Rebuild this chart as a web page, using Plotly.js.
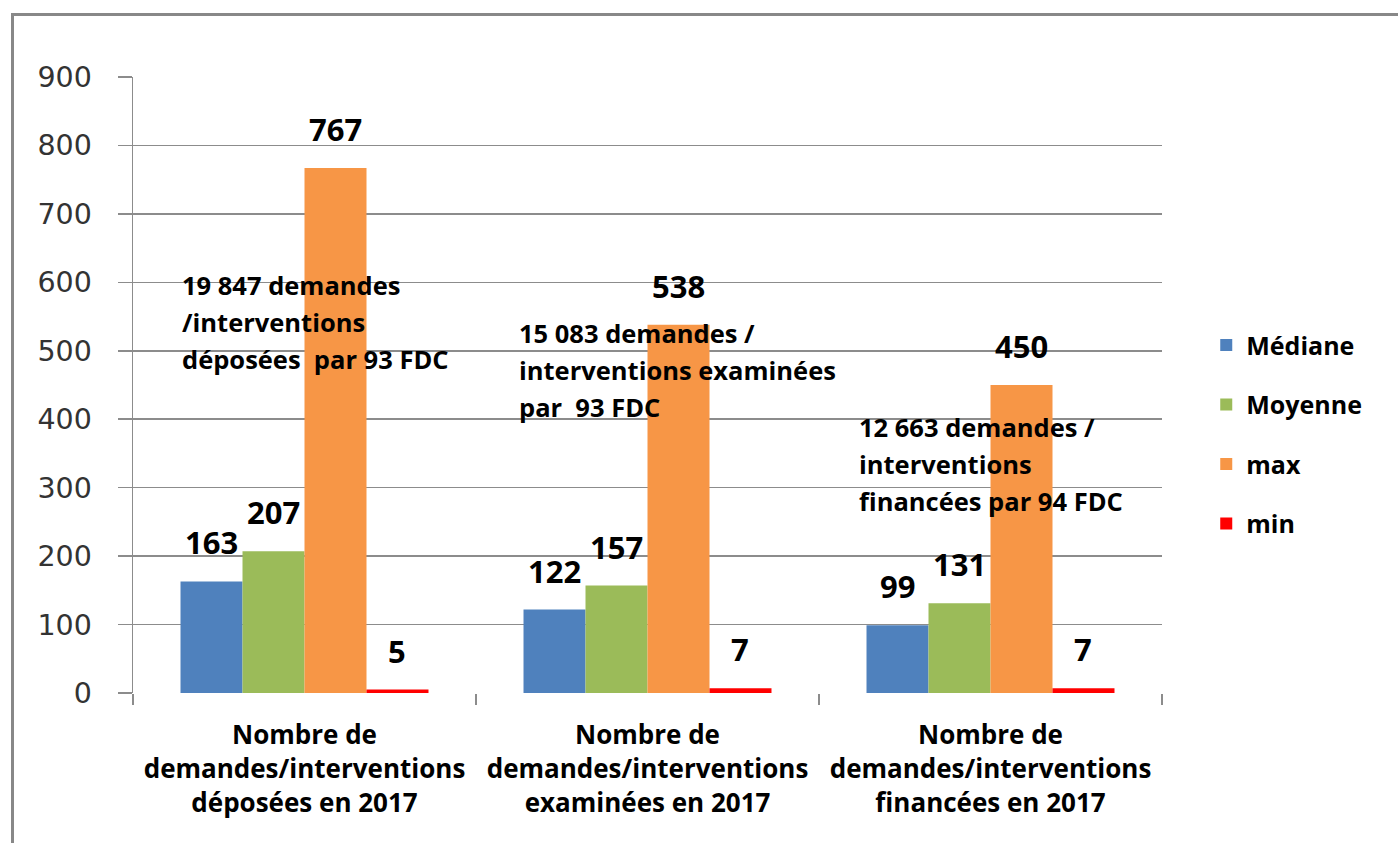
<!DOCTYPE html>
<html><head><meta charset="utf-8">
<script src="https://cdn.plot.ly/plotly-3.0.1.min.js"></script>
<style>
html,body{margin:0;padding:0;background:#fff;}
#frame{position:absolute;left:11px;top:13px;width:1500px;height:1000px;border-left:3px solid #888;border-top:3px solid #888;pointer-events:none;z-index:5;}
#chart{position:absolute;left:0;top:0;width:1398px;height:843px;}
</style></head>
<body>
<div id="chart"></div>
<div id="frame"></div>
<script>
const categories = [
  "Nombre de<br>demandes/interventions<br>déposées en 2017",
  "Nombre de<br>demandes/interventions<br>examinées en 2017",
  "Nombre de<br>demandes/interventions<br>financées en 2017"
];
const seriesNames = ["Médiane", "Moyenne", "max", "min"];
const mediane = [163, 122, 99];
const moyenne = [207, 157, 131];
const maxVals = [767, 538, 450];
const minVals = [5, 7, 7];
const colors = ["#4f81bd", "#9bbb59", "#f79646", "#ff0000"];
const noteLines = [
  ["19 847 demandes", "/interventions", "déposées  par 93 FDC"],
  ["15 083 demandes /", "interventions examinées", "par  93 FDC"],
  ["12 663 demandes /", "interventions", "financées par 94 FDC"]
];
const noteAnchors = [ {x: 0.047, y: 623}, {x: 0.374, y: 553}, {x: 0.705, y: 415} ];

const allSeries = [mediane, moyenne, maxVals, minVals];
const bargap = 0.277;
const plotW = 1398 - 133 - 236;
const catW = plotW / categories.length;
const barW = catW * (1 - bargap) / allSeries.length;

const traces = allSeries.map((vals, i) => ({
  type: "bar", name: seriesNames[i], x: categories, y: vals,
  marker: {color: colors[i], line: {width: 0}},
  legendgroup: "g" + i, hoverinfo: "none"
}));

const annotations = [];
allSeries.forEach((vals, i) => {
  vals.forEach((v, j) => {
    annotations.push({
      x: categories[j], y: v, xref: "x", yref: "y",
      text: String(v), showarrow: false,
      xshift: (i - (allSeries.length - 1) / 2) * barW,
      yshift: 39, yanchor: "middle", xanchor: "center",
      font: {family: "Open Sans, sans-serif", size: 31, color: "#000", weight: "bold"}
    });
  });
});
noteLines.forEach((lines, k) => {
  lines.forEach((t, m) => {
    annotations.push({
      x: noteAnchors[k].x, y: noteAnchors[k].y, xref: "paper", yref: "y",
      text: t, showarrow: false, xanchor: "left", yanchor: "top", align: "left",
      yshift: -37 * m, borderpad: 0,
      font: {family: "Open Sans, sans-serif", size: 25.5, color: "#000", weight: "bold"}
    });
  });
});

const layout = {
  width: 1398, height: 843,
  margin: {l: 133, r: 236, t: 77, b: 150},
  paper_bgcolor: "rgba(0,0,0,0)", plot_bgcolor: "#fff",
  barmode: "group", bargap: bargap, bargroupgap: 0,
  showlegend: true,
  legend: {x: 1.043, y: 0.42, xanchor: "left", yanchor: "middle",
    font: {family: "Open Sans, sans-serif", size: 25, color: "#000", weight: "bold"},
    tracegroupgap: 24, itemwidth: 30},
  xaxis: {type: "category", showline: false, showgrid: false,
    ticks: "outside", tickson: "boundaries", ticklen: 11, tickcolor: "#8c8c8c", tickwidth: 1.5,
    tickfont: {family: "Open Sans, sans-serif", size: 26, color: "#000", weight: "bold"},
    ticklabelstandoff: 24, automargin: false},
  yaxis: {range: [0, 900], dtick: 100, tick0: 0, showline: true, linecolor: "#8c8c8c", linewidth: 1.5,
    showgrid: true, gridcolor: "#8c8c8c", gridwidth: 1.5, zeroline: false,
    ticks: "outside", ticklen: 14, tickcolor: "#8c8c8c", tickwidth: 1.5,
    tickfont: {family: "DejaVu Sans, sans-serif", size: 28.5, color: "#333"},
    ticklabelstandoff: 20, automargin: false},
  annotations: annotations
};
Plotly.newPlot("chart", traces, layout, {displayModeBar: false, staticPlot: true});
</script>
</body></html>
